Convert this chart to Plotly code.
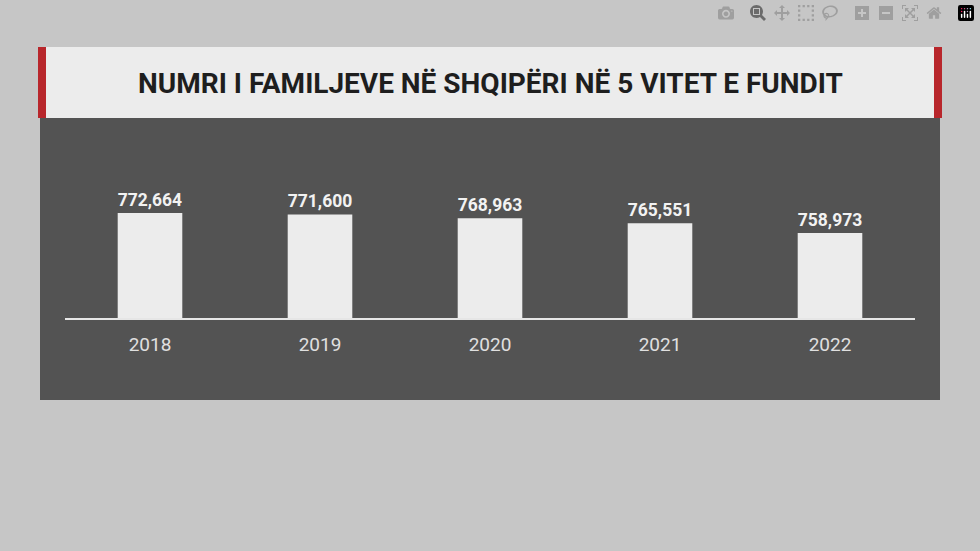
import plotly.graph_objects as go

years = ["2018", "2019", "2020", "2021", "2022"]
families = [772664, 771600, 768963, 765551, 758973]
labels = ["772,664", "771,600", "768,963", "765,551", "758,973"]
title = "NUMRI I FAMILJEVE NË SHQIPËRI NË 5 VITET E FUNDIT"

W, H = 980, 551
def py(y): return 1 - y / H
def px(x): return x / W

fig = go.Figure(go.Bar(
    x=years, y=families, text=labels, textposition="outside",
    textfont=dict(family="Roboto", size=24, color="#f2f2f2", weight="bold"),
    marker=dict(color="#ececec", line_width=0), width=0.38, cliponaxis=False,
))

shapes = [
    dict(type="rect", xref="paper", yref="paper", x0=px(40), x1=px(940), y0=py(400), y1=py(47),
         fillcolor="#535353", line_width=0, layer="below"),
    dict(type="rect", xref="paper", yref="paper", x0=px(40), x1=px(940), y0=py(118), y1=py(47),
         fillcolor="#ececec", line_width=0, layer="below"),
    dict(type="rect", xref="paper", yref="paper", x0=px(38), x1=px(46), y0=py(118), y1=py(47),
         fillcolor="#b8262b", line_width=0, layer="below"),
    dict(type="rect", xref="paper", yref="paper", x0=px(934), x1=px(942), y0=py(118), y1=py(47),
         fillcolor="#b8262b", line_width=0, layer="below"),
    dict(type="line", xref="paper", yref="paper", x0=px(65), x1=px(915), y0=py(319), y1=py(319),
         line=dict(color="#e6e6e6", width=2)),
]

fig.update_layout(
    width=W, height=H, margin=dict(l=0, r=0, t=0, b=0),
    paper_bgcolor="#c6c6c6", plot_bgcolor="rgba(0,0,0,0)",
    shapes=shapes, showlegend=False,
    annotations=[dict(text=title, xref="paper", yref="paper", x=px(490), y=py(83),
                      xanchor="center", yanchor="middle",
                      showarrow=False, font=dict(family="Roboto", size=28, color="#1e1e1e", weight="bold"))],
    xaxis=dict(domain=[px(65), px(915)], range=[-0.5, 4.5], showgrid=False, zeroline=False,
               showline=False, ticks="", ticklabelstandoff=12,
               tickfont=dict(family="Roboto", size=19, color="#e0e0e0")),
    yaxis=dict(domain=[py(319), py(138)], range=[700000, 824000], visible=False),
)
fig.write_html("out.html")
with open("out.html", encoding="utf-8") as f:
    html = f.read()
html = html.replace("<body>", '<body style="margin:0;background:#c6c6c6">', 1)
with open("out.html", "w", encoding="utf-8") as f:
    f.write(html)
